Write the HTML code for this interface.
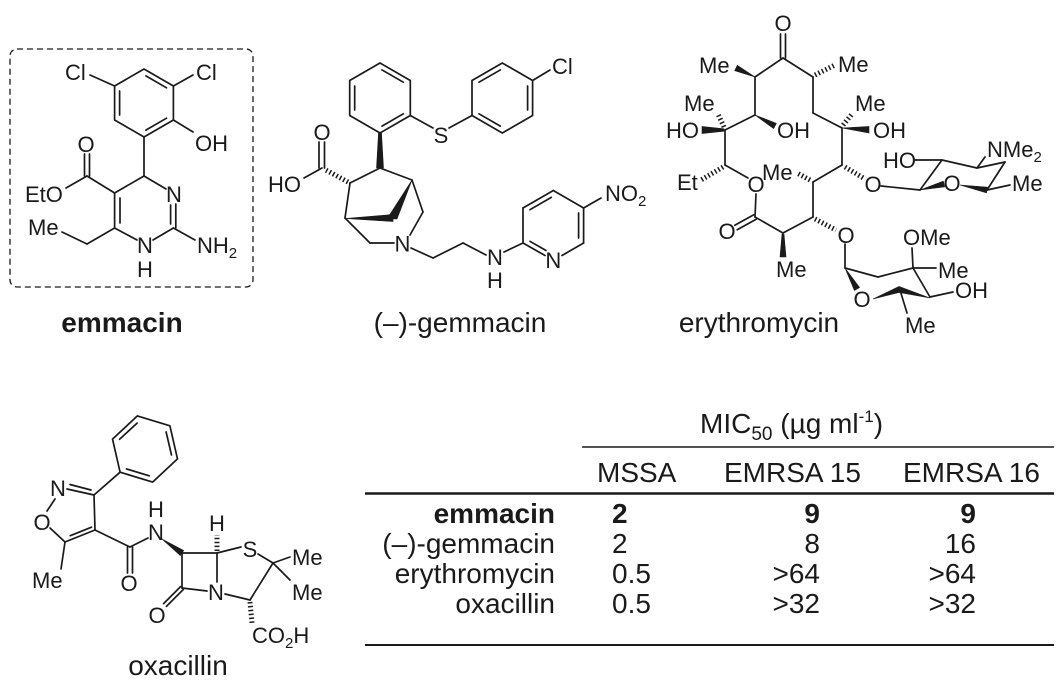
<!DOCTYPE html>
<html><head><meta charset="utf-8"><style>
html,body{margin:0;padding:0;background:#fff;}
svg{display:block;}
text{font-family:"Liberation Sans",Arial,sans-serif;fill:#1a1a1a;}
.s text{font-size:22px;}
.b line,.b polyline,.b polygon.r{stroke:#1a1a1a;stroke-width:1.7;fill:none;stroke-linecap:round;stroke-linejoin:round;}
.w{fill:#1a1a1a;stroke:#1a1a1a;stroke-width:0.6;}
.h{stroke:#1a1a1a;stroke-width:5;stroke-dasharray:1.5 2.4;fill:none;}
.m{text-anchor:middle;}
</style></head><body>
<svg width="1064" height="680" viewBox="0 0 1064 680" xmlns="http://www.w3.org/2000/svg">
<rect width="1064" height="680" fill="#fff"/>

<!-- ===== EMMACIN ===== -->
<rect x="10" y="49" width="243" height="238" rx="7" fill="none" stroke="#1a1a1a" stroke-width="1.3" stroke-dasharray="6 4"/>
<g class="b">
<polygon class="r" points="144,69 173.4,86 173.4,120 144,137 114.6,120 114.6,86"/>
<line x1="145.9" y1="75.9" x2="166.5" y2="87.8"/>
<line x1="166.5" y1="118.2" x2="145.9" y2="130.1"/>
<line x1="119.6" y1="91" x2="119.6" y2="115"/>
<line x1="114.6" y1="86" x2="90" y2="75"/>
<line x1="173.4" y1="86" x2="193" y2="75"/>
<line x1="173.4" y1="120" x2="193" y2="132"/>
<line x1="144" y1="137" x2="144" y2="176"/>
<line x1="144" y1="176" x2="166" y2="189"/>
<line x1="175.8" y1="204" x2="175.8" y2="228"/>
<line x1="170.6" y1="205" x2="170.6" y2="224"/>
<line x1="173.4" y1="228" x2="153" y2="240"/>
<line x1="137" y1="240" x2="114.6" y2="228"/>
<line x1="114.6" y1="228" x2="114.6" y2="193"/>
<line x1="120" y1="198" x2="120" y2="223"/>
<line x1="114.6" y1="193" x2="144" y2="176"/>
<line x1="173.4" y1="228" x2="195" y2="240"/>
<line x1="114.6" y1="193" x2="87" y2="176"/>
<line x1="84.5" y1="154" x2="84.5" y2="176"/>
<line x1="89.5" y1="154" x2="89.5" y2="176"/>
<line x1="87" y1="176" x2="66" y2="188"/>
<line x1="114.6" y1="228" x2="87" y2="244"/>
<line x1="87" y1="244" x2="62" y2="232"/>
</g>
<g class="s">
<text x="65" y="80">Cl</text>
<text x="196" y="80">Cl</text>
<text x="195" y="151">OH</text>
<text class="m" x="86" y="152">O</text>
<text x="25" y="202">EtO</text>
<text x="28" y="235">Me</text>
<text class="m" x="174" y="202">N</text>
<text class="m" x="145" y="253">N</text>
<text class="m" x="145" y="277">H</text>
<text x="197" y="253">NH<tspan font-size="15" dy="5">2</tspan></text>
</g>
<text x="122" y="332" font-size="28" font-weight="bold" text-anchor="middle">emmacin</text>

<!-- ===== GEMMACIN ===== -->
<g class="b">
<polygon class="r" points="380,63 410.3,80.5 410.3,115.5 380,133 349.7,115.5 349.7,80.5"/>
<line x1="382" y1="69.95" x2="403.3" y2="82.2"/>
<line x1="403.3" y1="113.8" x2="382" y2="126.1"/>
<line x1="354.7" y1="86" x2="354.7" y2="110"/>
<line x1="410.3" y1="115.5" x2="433" y2="128"/>
<line x1="449" y1="128" x2="472" y2="115.5"/>
<polygon class="r" points="472,115.5 472,80.5 502.3,63 532.6,80.5 532.6,115.5 502.3,133"/>
<line x1="479" y1="82.2" x2="500.3" y2="69.95"/>
<line x1="527.6" y1="86" x2="527.6" y2="110"/>
<line x1="500.3" y1="126.1" x2="479" y2="113.8"/>
<line x1="532.6" y1="80.5" x2="550" y2="70"/>
<line x1="380" y1="168" x2="350" y2="183"/>
<line x1="380" y1="168" x2="412" y2="180"/>
<line x1="350" y1="183" x2="345" y2="218"/>
<line x1="345" y1="218" x2="370" y2="243"/>
<line x1="370" y1="243" x2="394" y2="243"/>
<line x1="412" y1="180" x2="423" y2="212"/>
<line x1="423" y1="212" x2="410" y2="235"/>
<line x1="319" y1="142" x2="319" y2="168"/>
<line x1="324.5" y1="142" x2="324.5" y2="168"/>
<line x1="322" y1="168" x2="304" y2="178"/>
<line x1="411" y1="248" x2="433" y2="258"/>
<line x1="433" y1="258" x2="463" y2="243"/>
<line x1="463" y1="243" x2="486" y2="255"/>
<line x1="504" y1="252" x2="523" y2="243"/>
<line x1="523" y1="243" x2="523" y2="208"/>
<line x1="523" y1="208" x2="553.3" y2="190.5"/>
<line x1="553.3" y1="190.5" x2="583.6" y2="208"/>
<line x1="583.6" y1="208" x2="583.6" y2="243"/>
<line x1="583.6" y1="243" x2="562" y2="255.5"/>
<line x1="545" y1="255.5" x2="523" y2="243"/>
<line x1="530" y1="209.7" x2="551.3" y2="197.4"/>
<line x1="578.6" y1="213" x2="578.6" y2="238"/>
<line x1="530" y1="241.3" x2="546" y2="250.5"/>
<line x1="583.6" y1="208" x2="601" y2="198"/>
</g>
<polygon class="w" points="378.5,133 381.5,133 383.5,168 376.5,168"/>
<polygon class="w" points="345,218.5 393,214.5 393,221.5"/>
<polygon class="w" points="412,180 387,219 397,219"/>
<line class="h" x1="348" y1="182" x2="324" y2="169"/>
<g class="s">
<text x="552" y="74">Cl</text>
<text class="m" x="441" y="143">S</text>
<text class="m" x="322" y="140">O</text>
<text x="268" y="192">HO</text>
<text class="m" x="402.5" y="251.5">N</text>
<text class="m" x="495" y="265">N</text>
<text class="m" x="495" y="288">H</text>
<text class="m" x="553.3" y="268">N</text>
<text x="605" y="201">NO<tspan font-size="15" dy="5">2</tspan></text>
</g>
<text x="460" y="332" font-size="28" text-anchor="middle">(–)-gemmacin</text>

<!-- ===== ERYTHROMYCIN ===== -->
<g class="b">
<line x1="780.5" y1="34" x2="780.5" y2="58"/>
<line x1="785.5" y1="34" x2="785.5" y2="58"/>
<line x1="783" y1="58" x2="755" y2="77"/>
<line x1="783" y1="58" x2="813" y2="77"/>
<line x1="755" y1="77" x2="755" y2="115"/>
<line x1="813" y1="77" x2="813" y2="113"/>
<line x1="813" y1="113" x2="842" y2="128"/>
<line x1="842" y1="128" x2="842" y2="165"/>
<line x1="755" y1="115" x2="725" y2="130"/>
<line x1="725" y1="130" x2="725" y2="165"/>
<line x1="725" y1="165" x2="748" y2="178"/>
<line x1="756" y1="194" x2="755" y2="217"/>
<line x1="755" y1="217" x2="783" y2="233"/>
<line x1="783" y1="233" x2="813" y2="217"/>
<line x1="813" y1="217" x2="813" y2="182"/>
<line x1="813" y1="182" x2="842" y2="165"/>
<line x1="756.2" y1="219.2" x2="737.2" y2="229.7"/>
<line x1="753.8" y1="214.8" x2="734.8" y2="225.3"/>
<line x1="881" y1="186" x2="920" y2="190"/>
<line x1="920" y1="190" x2="942" y2="160"/>
<line x1="942" y1="160" x2="915" y2="160"/>
<line x1="942" y1="160" x2="977" y2="168"/>
<line x1="977" y1="168" x2="1005" y2="162"/>
<line x1="1005" y1="162" x2="987" y2="190"/>
<line x1="977" y1="168" x2="985" y2="157"/>
<line x1="987" y1="190" x2="1010" y2="185"/>
<line x1="845" y1="244" x2="845" y2="268"/>
<line x1="845" y1="268" x2="878" y2="277"/>
<line x1="878" y1="277" x2="913" y2="268"/>
<line x1="913" y1="268" x2="912" y2="248"/>
<line x1="913" y1="268" x2="936" y2="268"/>
<line x1="913" y1="268" x2="930" y2="297"/>
<line x1="930" y1="297" x2="953" y2="292"/>
<line x1="900" y1="290" x2="907" y2="313"/>
</g>
<polygon class="w" points="755,77 737.3,65.3 734.7,70.7"/>
<polygon class="w" points="755,115 773.6,128.6 776.4,123.4"/>
<polygon class="w" points="724,128.8 724,131.2 702,133.5 702,126.5"/>
<polygon class="w" points="782,234 784,234 786,257 780,257"/>
<polygon class="w" points="842,128 869,126.5 869,133"/>
<polygon class="w" points="920,190 944.7,186.9 943.3,181.1"/>
<polygon class="w" points="960,185 987.5,187.1 986.5,192.9"/>
<polygon class="w" points="845,268 854.4,290.5 859.6,287.5"/>
<polygon class="w" points="873,299 899,286.5 930,298 899,292.5"/>
<line class="h" x1="815" y1="75" x2="835" y2="65"/>
<line class="h" x1="724" y1="127" x2="718" y2="114"/>
<line class="h" x1="723" y1="167" x2="701" y2="180"/>
<line class="h" x1="815" y1="219" x2="836" y2="230"/>
<line class="h" x1="810" y1="180" x2="797" y2="173"/>
<line class="h" x1="845" y1="167" x2="865" y2="179"/>
<line class="h" x1="843" y1="125" x2="852" y2="114"/>
<g class="s">
<text class="m" x="783" y="31">O</text>
<text x="699" y="73">Me</text>
<text x="838" y="72">Me</text>
<text x="684" y="111">Me</text>
<text x="666" y="138">HO</text>
<text x="777" y="138">OH</text>
<text x="855" y="111">Me</text>
<text x="873" y="138">OH</text>
<text x="677" y="190">Et</text>
<text class="m" x="756" y="192">O</text>
<text x="762" y="180">Me</text>
<text class="m" x="873" y="192">O</text>
<text x="883" y="168">HO</text>
<text x="987" y="157">NMe<tspan font-size="15" dy="5">2</tspan></text>
<text class="m" x="952" y="191">O</text>
<text x="1012" y="191">Me</text>
<text class="m" x="727" y="239">O</text>
<text x="776" y="277">Me</text>
<text class="m" x="846" y="243">O</text>
<text x="903" y="245">OMe</text>
<text x="938" y="278">Me</text>
<text x="955" y="298">OH</text>
<text class="m" x="862" y="307">O</text>
<text x="905" y="333">Me</text>
</g>
<text x="759" y="332" font-size="28" text-anchor="middle">erythromycin</text>

<!-- ===== OXACILLIN ===== -->
<g class="b">
<polygon class="r" points="120.1,472.2 112.5,439.1 137.4,415.9 169.9,425.8 177.5,458.9 152.6,482.1"/>
<line x1="119.6" y1="439.3" x2="137.1" y2="423.1"/>
<line x1="166.1" y1="431.9" x2="171.5" y2="455"/>
<line x1="149.2" y1="475.8" x2="126.5" y2="468.9"/>
<line x1="120.1" y1="472.2" x2="94" y2="495"/>
<line x1="94" y1="495" x2="67" y2="489"/>
<line x1="91" y1="490" x2="70" y2="484.5"/>
<line x1="55" y1="499" x2="47" y2="511"/>
<line x1="50" y1="528" x2="65" y2="542"/>
<line x1="65" y1="542" x2="95" y2="530"/>
<line x1="70.3" y1="535.7" x2="91.5" y2="527.2"/>
<line x1="95" y1="530" x2="94" y2="495"/>
<line x1="65" y1="542" x2="61" y2="569"/>
<line x1="95" y1="530" x2="130" y2="547"/>
<line x1="127.5" y1="547" x2="127.5" y2="573"/>
<line x1="132.5" y1="547" x2="132.5" y2="573"/>
<line x1="130" y1="547" x2="148" y2="538"/>
<line x1="182" y1="553" x2="217" y2="553"/>
<line x1="182" y1="553" x2="182" y2="588"/>
<line x1="182" y1="588" x2="207" y2="591"/>
<line x1="217" y1="582" x2="217" y2="553"/>
<line x1="183.4" y1="589.4" x2="166.4" y2="606.4"/>
<line x1="180.6" y1="586.6" x2="163.6" y2="603.6"/>
<line x1="217" y1="553" x2="241" y2="547"/>
<line x1="258" y1="554" x2="273" y2="563"/>
<line x1="273" y1="563" x2="290" y2="557"/>
<line x1="273" y1="563" x2="290" y2="580"/>
<line x1="273" y1="563" x2="250" y2="600"/>
<line x1="250" y1="600" x2="225" y2="594"/>
</g>
<polygon class="w" points="162,539 180.3,555.5 183.7,550.5"/>
<line class="h" x1="217" y1="551" x2="217" y2="535"/>
<line class="h" x1="250" y1="602" x2="252" y2="623"/>
<g class="s">
<text class="m" x="58" y="496">N</text>
<text class="m" x="42" y="530">O</text>
<text x="32" y="588">Me</text>
<text class="m" x="129" y="591">O</text>
<text class="m" x="156" y="540">N</text>
<text class="m" x="156" y="517">H</text>
<text class="m" x="217" y="531">H</text>
<text class="m" x="250" y="557">S</text>
<text x="292" y="565">Me</text>
<text x="292" y="600">Me</text>
<text class="m" x="216" y="600">N</text>
<text class="m" x="157" y="623">O</text>
<text x="252" y="643">CO<tspan font-size="15" dy="5">2</tspan><tspan dy="-5">H</tspan></text>
</g>
<text x="178" y="675" font-size="28" text-anchor="middle">oxacillin</text>

<!-- ===== TABLE ===== -->
<g font-size="28">
<text x="700" y="433">MIC<tspan font-size="19" dy="7">50</tspan><tspan dy="-7"> (µg ml</tspan><tspan font-size="17" dy="-11">-1</tspan><tspan dy="11">)</tspan></text>
<text x="597" y="482">MSSA</text>
<text x="724" y="482">EMRSA 15</text>
<text x="903" y="482">EMRSA 16</text>
<g text-anchor="end">
<text x="555" y="523" font-weight="bold">emmacin</text>
<text x="555" y="553">(–)-gemmacin</text>
<text x="555" y="583">erythromycin</text>
<text x="555" y="613">oxacillin</text>
<text x="820" y="523" font-weight="bold">9</text>
<text x="820" y="553">8</text>
<text x="820" y="583">&gt;64</text>
<text x="820" y="613">&gt;32</text>
<text x="976" y="523" font-weight="bold">9</text>
<text x="976" y="553">16</text>
<text x="976" y="583">&gt;64</text>
<text x="976" y="613">&gt;32</text>
</g>
<text x="612" y="523" font-weight="bold">2</text>
<text x="612" y="553">2</text>
<text x="612" y="583">0.5</text>
<text x="612" y="613">0.5</text>
</g>
<line x1="582" y1="447" x2="1054" y2="447" stroke="#1a1a1a" stroke-width="1.4"/>
<line x1="365" y1="493.5" x2="1054" y2="493.5" stroke="#1a1a1a" stroke-width="2.6"/>
<line x1="365" y1="645" x2="1054" y2="645" stroke="#1a1a1a" stroke-width="2"/>
</svg>
</body></html>
